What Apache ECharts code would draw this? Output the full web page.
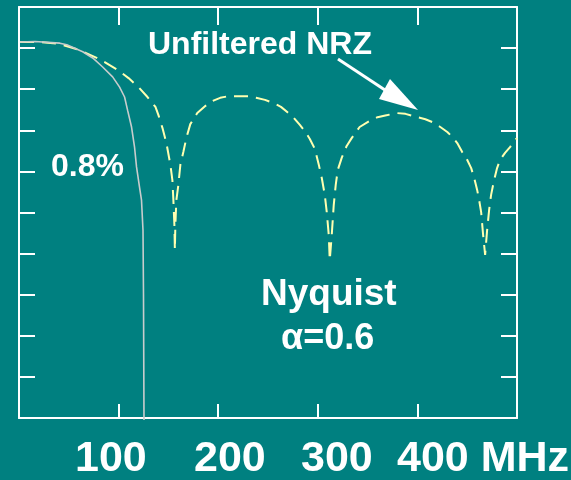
<!DOCTYPE html>
<html>
<head>
<meta charset="utf-8">
<script src="https://cdn.jsdelivr.net/npm/echarts@6/dist/echarts.min.js"></script>
<style>
  html, body { margin: 0; padding: 0; background: #008080; }
  #chart { width: 571px; height: 480px; }
</style>
</head>
<body>
<div id="chart"></div>
<script>
// Power spectra: unfiltered NRZ vs. Nyquist (raised-cosine, alpha = 0.6) filtered
// frequency in MHz, level in dB

const nrzFreq = [1, 21, 41, 61, 78, 86, 99, 110, 120, 129, 137, 140, 144, 148, 152, 154, 155, 156, 156.5, 157, 158, 160, 162, 165, 168, 172, 179, 187, 194, 202, 210, 219, 230, 238, 247, 256, 263, 269, 276, 282, 287, 292, 297, 301, 304, 307, 309, 311, 312, 314, 316, 318, 320, 324, 329, 334, 342, 352, 360, 370, 379, 388, 400, 408, 415, 423, 430, 435, 440, 445, 449, 454, 457, 460, 462, 464, 466, 468, 470, 472, 474, 477, 480, 483, 488, 493, 498, 500];
const nrzLevel = [1.5, 1.5, 1.0, -0.5, -2.4, -3.4, -5.3, -7.3, -9.5, -11.9, -14.3, -16.3, -19.4, -23.1, -28.4, -32.1, -37.0, -43.0, -49.1, -43.0, -37.0, -33.3, -28.4, -25.3, -21.9, -18.5, -15.8, -14.1, -12.9, -12.1, -11.7, -11.7, -11.7, -12.1, -12.6, -13.4, -14.3, -15.5, -17.0, -18.7, -20.2, -22.1, -24.5, -28.4, -31.6, -35.7, -39.9, -45.5, -51.6, -45.5, -38.2, -33.3, -29.7, -26.7, -23.8, -21.9, -19.2, -17.7, -16.8, -16.3, -15.8, -16.0, -16.8, -17.3, -18.0, -19.2, -20.4, -21.6, -23.1, -25.3, -26.7, -29.2, -31.6, -34.5, -37.0, -39.9, -45.5, -50.3, -44.3, -39.4, -35.7, -32.1, -29.2, -27.2, -25.5, -24.1, -22.4, -21.9];

const nyqFreq = [1, 16, 41, 48, 64, 74, 84, 94, 101, 106, 109, 113, 116, 118, 121, 123, 124.5, 125, 125.5];
const nyqLevel = [1.5, 1.6, 1.2, 0.8, -0.9, -2.4, -4.6, -7.0, -9.5, -11.9, -15.1, -19.2, -24.1, -28.9, -33.8, -37.0, -44.3, -60.0, -90.5];

const freqTicks = [100, 200, 300, 400];
const tickLabels = ['100', '200', '300', '400 MHz'];
const notes = { nrz: 'Unfiltered NRZ', excess: '0.8%', filter: 'Nyquist', rolloff: '\u03b1=0.6' };

const pair = (xs, ys) => xs.map((x, i) => [x, ys[i]]);

const FONT = '"Liberation Sans", Arial, Helvetica, sans-serif';
const WHITE = '#ffffff';

const chart = echarts.init(document.getElementById('chart'), null, { renderer: 'canvas' });

const frameAxis = (extra) => Object.assign({
  type: 'value',
  axisLine: { show: true, onZero: false, lineStyle: { color: WHITE, width: 2 } },
  axisLabel: { show: false },
  splitLine: { show: false }
}, extra);

const labelLeft = [75, 194, 301, 397];

chart.setOption({
  backgroundColor: '#008080',
  animation: false,
  grid: { left: 19, right: 54, top: 7, bottom: 62 },
  xAxis: [
    frameAxis({ position: 'bottom', min: 0, max: 500, interval: 100,
      axisTick: { show: true, inside: true, length: 14, lineStyle: { color: WHITE, width: 2 } } }),
    frameAxis({ position: 'top', min: 0, max: 500, interval: 100,
      axisTick: { show: true, inside: true, length: 18, lineStyle: { color: WHITE, width: 2 } } })
  ],
  yAxis: [
    frameAxis({ position: 'left', min: -90, max: 10, interval: 10,
      axisTick: { show: true, inside: true, length: 16, lineStyle: { color: WHITE, width: 2 } } }),
    frameAxis({ position: 'right', min: -90, max: 10, interval: 10,
      axisTick: { show: true, inside: true, length: 16, lineStyle: { color: WHITE, width: 2 } } })
  ],
  series: [
    {
      name: notes.nrz, type: 'line', xAxisIndex: 0, yAxisIndex: 0,
      data: pair(nrzFreq, nrzLevel), showSymbol: false, smooth: false,
      lineStyle: { color: '#ffffb0', width: 2, type: [14, 8] }
    },
    {
      name: notes.filter, type: 'line', xAxisIndex: 0, yAxisIndex: 0,
      data: pair(nyqFreq, nyqLevel), showSymbol: false, smooth: false, clip: false,
      lineStyle: { color: '#c8cccc', width: 1.6 }
    }
  ],
  graphic: [
    ...tickLabels.map((t, i) => ({
      type: 'text', left: labelLeft[i], top: 460 - 22,
      style: { text: t, fill: WHITE, font: 'bold 43px ' + FONT, verticalAlign: 'top' }
    })),
    { type: 'text', x: 148, y: 45,
      style: { text: notes.nrz, fill: WHITE, font: 'bold 32px ' + FONT, verticalAlign: 'middle' } },
    { type: 'text', x: 51, y: 167.5,
      style: { text: notes.excess, fill: WHITE, font: 'bold 32px ' + FONT, verticalAlign: 'middle' } },
    { type: 'text', x: 261, y: 294.5,
      style: { text: notes.filter, fill: WHITE, font: 'bold 37px ' + FONT, verticalAlign: 'middle' } },
    { type: 'text', x: 281, y: 339.5,
      style: { text: notes.rolloff, fill: WHITE, font: 'bold 36px ' + FONT, verticalAlign: 'middle' } },
    // pointer to the NRZ curve
    { type: 'line', shape: { x1: 338, y1: 59, x2: 388, y2: 92 },
      style: { stroke: WHITE, lineWidth: 3 } },
    { type: 'polygon', shape: { points: [[418, 110], [390, 79], [379, 99]] },
      style: { fill: WHITE } }
  ]
});
</script>
</body>
</html>
